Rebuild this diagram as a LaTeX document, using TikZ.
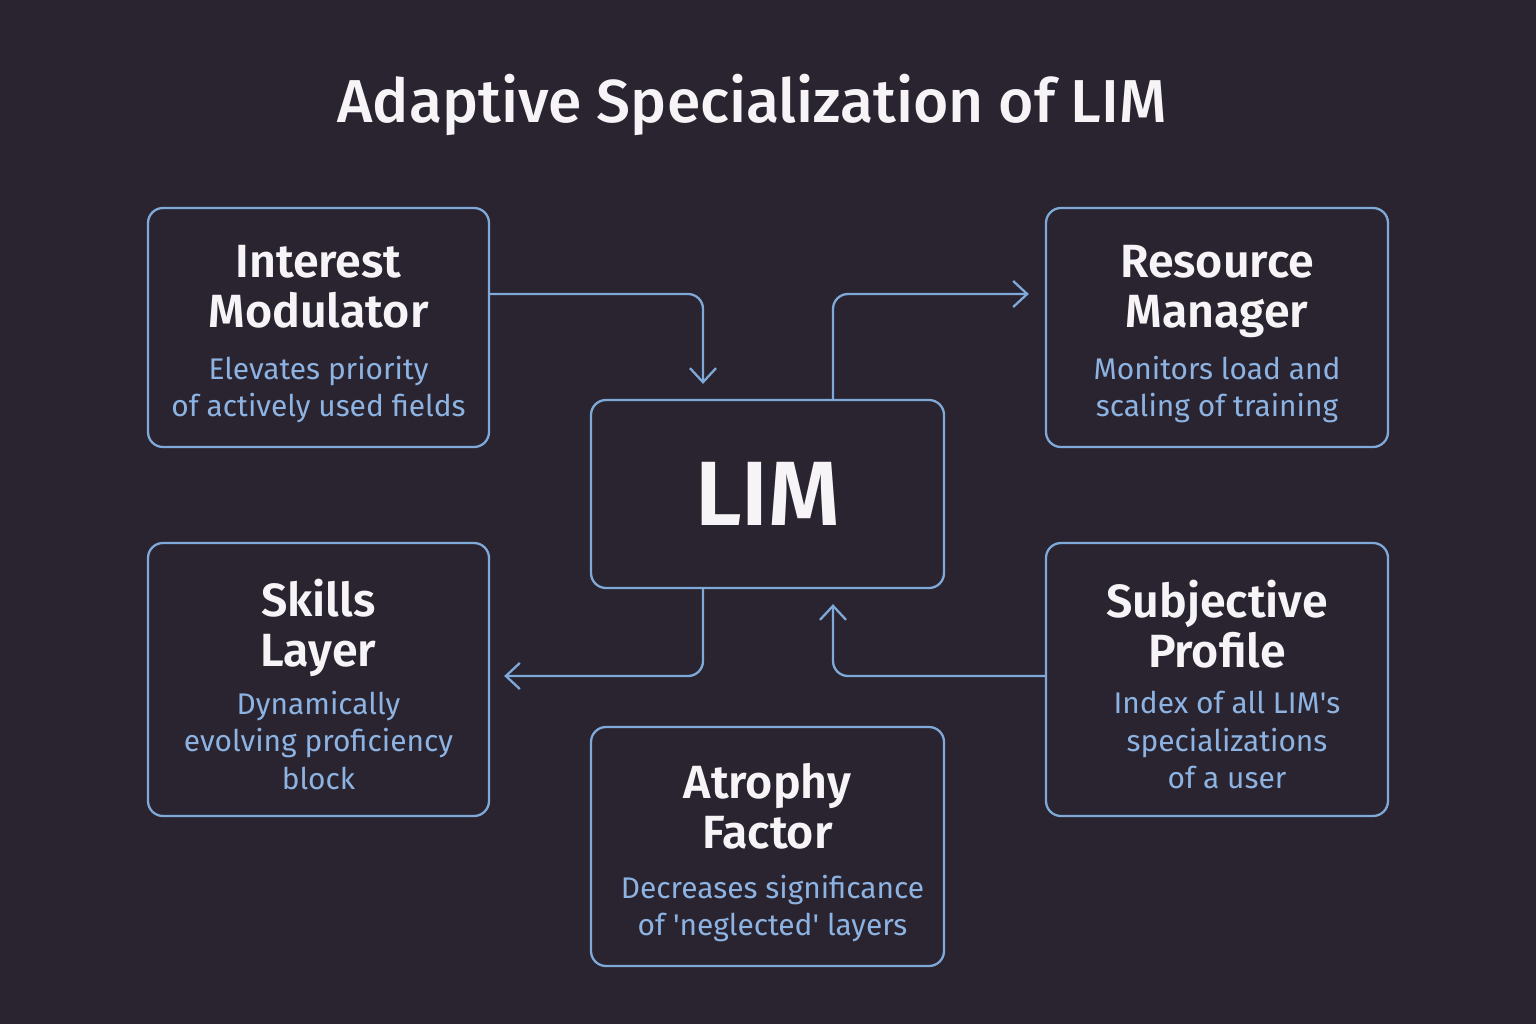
\documentclass[tikz,border=0pt]{standalone}
\usepackage{fontspec}
\setmainfont{Fira Sans}[BoldFont={Fira Sans SemiBold}]
\newfontfamily\headfont{Fira Sans Medium}
\usetikzlibrary{arrows.meta,positioning}

\definecolor{bg}{HTML}{2A2430}
\definecolor{edge}{HTML}{7FA9D8}
\definecolor{subtxt}{HTML}{8DB3E2}
\definecolor{txt}{HTML}{F6F4F6}

\tikzset{
  box/.style={draw=edge, line width=1.3pt, rounded corners=0.3cm, fill=bg},
  boxtitle/.style={anchor=north, inner sep=0pt, align=center, text=txt,
    font=\fontsize{26.5}{28.45}\selectfont\bfseries},
  boxsub/.style={anchor=north, inner sep=0pt, align=center, text=subtxt,
    font=\fontsize{17}{21.3}\selectfont},
  flow/.style={draw=edge, line width=1.3pt, rounded corners=0.3cm,
    -{Straight Barb[length=0.28cm, width=0.52cm]}},
}

\begin{document}
\begin{tikzpicture}
  % background
  \fill[bg] (0,0) rectangle (30.72,20.48);
  \useasboundingbox (0,0) rectangle (30.72,20.48);

  % title
  \node[anchor=base, inner sep=0pt, text=txt, font=\headfont\fontsize{34.5}{42}\selectfont]
    (title) at (15.04,18.02) {Adaptive Specialization of LIM};

  % central block
  \node[box, minimum width=7.06cm, minimum height=3.76cm, text=txt,
    font=\fontsize{52}{60}\selectfont\bfseries] (lim) at (15.35,10.6) {LIM};

  % interest modulator
  \node[box, minimum width=6.82cm, minimum height=4.78cm] (im) at (6.37,13.93) {};
  \node[boxtitle] (imt) at ([yshift=-0.76cm]im.north) {Interest\\Modulator};
  \node[boxsub] (ims) at ([yshift=-2.98cm]im.north) {Elevates priority\\of actively used fields};

  % resource manager
  \node[box, minimum width=6.84cm, minimum height=4.78cm] (rm) at (24.34,13.93) {};
  \node[boxtitle] (rmt) at ([yshift=-0.76cm]rm.north) {Resource\\Manager};
  \node[boxsub] (rms) at ([yshift=-2.98cm]rm.north) {Monitors load and\\scaling of training};

  % skills layer
  \node[box, minimum width=6.82cm, minimum height=5.46cm] (sl) at (6.37,6.89) {};
  \node[boxtitle] (slt) at ([yshift=-0.74cm]sl.north) {Skills\\Layer};
  \node[boxsub] (sls) at ([yshift=-2.98cm]sl.north) {Dynamically\\evolving proficiency\\block};

  % subjective profile
  \node[box, minimum width=6.84cm, minimum height=5.46cm] (sp) at (24.34,6.89) {};
  \node[boxtitle] (spt) at ([yshift=-0.76cm]sp.north) {Subjective\\Profile};
  \node[boxsub] (sps) at ([xshift=0.2cm,yshift=-2.98cm]sp.north) {Index of all LIM\textquotesingle s\\specializations\\of a user};

  % atrophy factor
  \node[box, minimum width=7.06cm, minimum height=4.78cm] (af) at (15.35,3.55) {};
  \node[boxtitle] (aft) at ([yshift=-0.74cm]af.north) {Atrophy\\Factor};
  \node[boxsub] (afs) at ([xshift=0.1cm,yshift=-2.98cm]af.north) {Decreases significance\\of \textquotesingle neglected\textquotesingle{} layers};

  % connectors
  \draw[flow, shorten >=0.3cm] ([yshift=0.67cm]im.east) -| ([xshift=-1.29cm]lim.north);
  \draw[flow, shorten >=0.32cm] ([xshift=1.31cm]lim.north) |- ([yshift=0.67cm]rm.west);
  \draw[flow, shorten >=0.28cm] ([xshift=-1.29cm]lim.south) |- ([yshift=0.07cm]sl.east);
  \draw[flow, shorten >=0.3cm] ([yshift=0.07cm]sp.west) -| ([xshift=1.31cm]lim.south);
\end{tikzpicture}
\end{document}
